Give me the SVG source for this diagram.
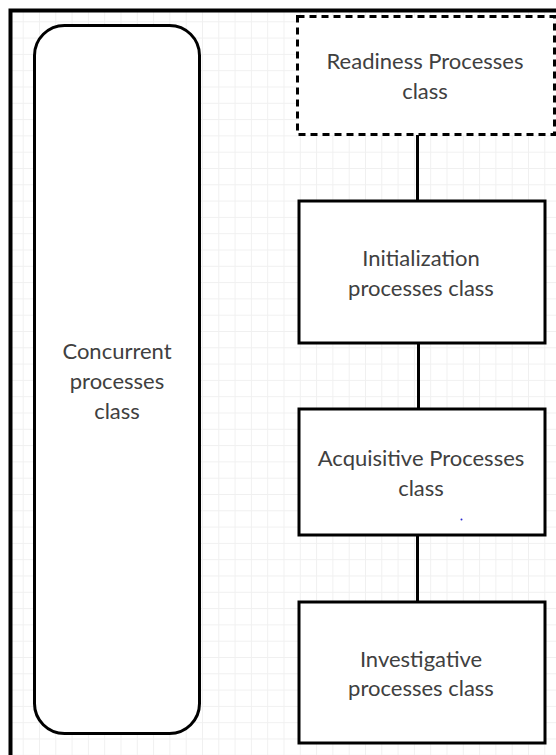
<svg xmlns="http://www.w3.org/2000/svg" width="556" height="755" viewBox="0 0 556 755">
  <defs>
    <pattern id="grid" width="16.3" height="16.3" patternUnits="userSpaceOnUse" x="6.4" y="5">
      <path d="M0 0.5 H16.3 M0.5 0 V16.3" fill="none" stroke="#f0f0f0" stroke-width="1"/>
    </pattern>
    <style>
      .box { fill: #ffffff; stroke: #000000; stroke-width: 3; }
      .dashed { stroke-dasharray: 7 5; }
      .link { stroke: #000000; stroke-width: 3; fill: none; }
      .label { font-family: Lato, "Open Sans", "Liberation Sans", sans-serif; font-size: 22px; fill: #404040; text-anchor: middle; }
    </style>
  </defs>

  <!-- canvas background and grid -->
  <rect x="0" y="0" width="556" height="755" fill="#ffffff"/>
  <rect x="11" y="11" width="545" height="744" fill="url(#grid)"/>
  <!-- page frame (top and left edges) -->
  <path d="M10.5 755 V10.5 H556" fill="none" stroke="#000000" stroke-width="4"/>

  <!-- connectors -->
  <g id="connectors">
    <line class="link" x1="417.5" y1="135" x2="417.5" y2="201"/>
    <line class="link" x1="418.5" y1="343" x2="418.5" y2="409"/>
    <line class="link" x1="417.5" y1="535" x2="417.5" y2="602"/>
  </g>

  <g id="concurrent">
    <rect class="box" x="34.5" y="25.5" width="165" height="708" rx="30" ry="30" stroke-width="2.8"/>
    <text class="label" x="117" y="359">Concurrent</text>
    <text class="label" x="117" y="389">processes</text>
    <text class="label" x="117" y="419">class</text>
  </g>

  <g id="readiness">
    <rect class="box dashed" x="297.5" y="16.5" width="257" height="118"/>
    <text class="label" x="425" y="69">Readiness Processes</text>
    <text class="label" x="425" y="99">class</text>
  </g>

  <g id="initialization">
    <rect class="box" x="299" y="201" width="246" height="142"/>
    <text class="label" x="421" y="266">Initialization</text>
    <text class="label" x="421" y="296">processes class</text>
  </g>

  <g id="acquisitive">
    <rect class="box" x="299" y="409" width="246" height="126"/>
    <text class="label" x="421" y="466">Acquisitive Processes</text>
    <text class="label" x="421" y="496">class</text>
    <!-- small blue marker dot -->
    <circle cx="461.5" cy="519.5" r="1" fill="#2a2ad0"/>
  </g>

  <g id="investigative">
    <rect class="box" x="299" y="602" width="246" height="141"/>
    <text class="label" x="421" y="667">Investigative</text>
    <text class="label" x="421" y="696">processes class</text>
  </g>
</svg>
